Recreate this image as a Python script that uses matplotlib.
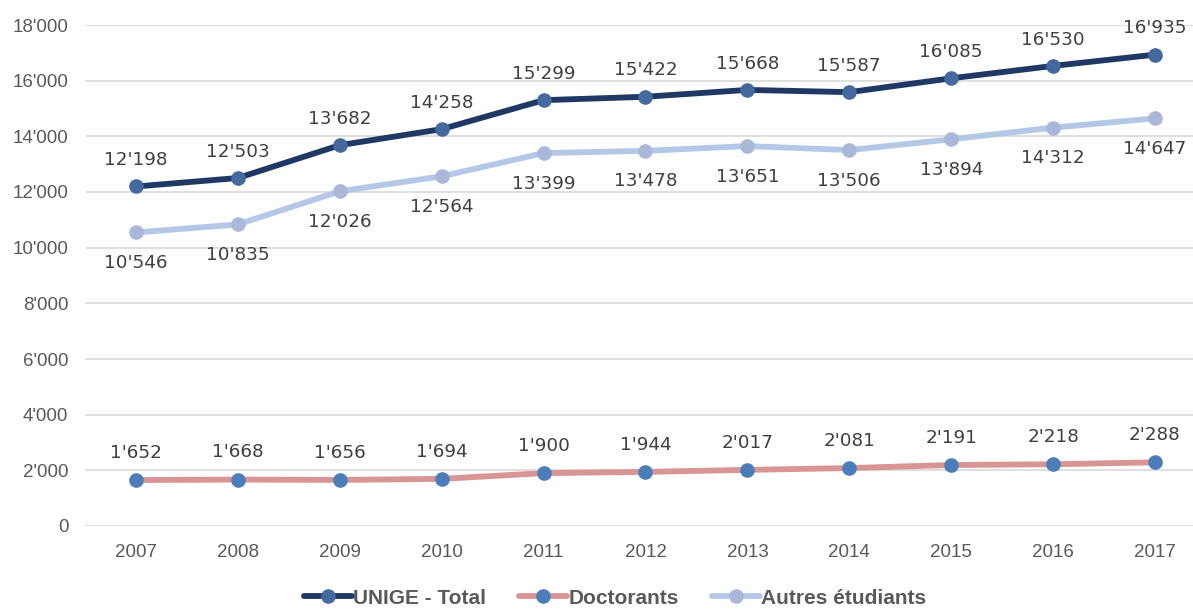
import matplotlib
matplotlib.use("Agg")
import matplotlib.pyplot as plt
from matplotlib.ticker import FuncFormatter

years = ["2007", "2008", "2009", "2010", "2011", "2012", "2013", "2014", "2015", "2016", "2017"]
total = [12198, 12503, 13682, 14258, 15299, 15422, 15668, 15587, 16085, 16530, 16935]
doctorants = [1652, 1668, 1656, 1694, 1900, 1944, 2017, 2081, 2191, 2218, 2288]
autres = [10546, 10835, 12026, 12564, 13399, 13478, 13651, 13506, 13894, 14312, 14647]
series_names = ["UNIGE - Total", "Doctorants", "Autres étudiants"]

def fmt(v):
    return f"{int(v):,}".replace(",", "'")

fig = plt.figure(figsize=(11.93, 6.09), dpi=100)
ax = fig.add_axes([85/1193, (609-526)/609, (1193-85)/1193, (526-25)/609])

x = list(range(len(years)))
ax.plot(x, autres, color="#B4C7E7", lw=4.2, marker="o", ms=9.5,
        mfc="#A9B8D9", mec="#A9B8D9", label=series_names[2], zorder=3, solid_capstyle="round")
ax.plot(x, doctorants, color="#D99594", lw=4.2, marker="o", ms=9.5,
        mfc="#4A7EBB", mec="#4A7EBB", label=series_names[1], zorder=3, solid_capstyle="round")
ax.plot(x, total, color="#1F3864", lw=4.2, marker="o", ms=9.5,
        mfc="#44699F", mec="#44699F", label=series_names[0], zorder=4, solid_capstyle="round")

lab_kw = dict(ha="center", fontsize=13.2, color="#404040", family="DejaVu Sans")
for xi, v in zip(x, total):
    ax.annotate(fmt(v), (xi, v), xytext=(0, 19), textcoords="offset points", va="center", **lab_kw)
for xi, v in zip(x, doctorants):
    ax.annotate(fmt(v), (xi, v), xytext=(0, 19.5), textcoords="offset points", va="center", **lab_kw)
for xi, v in zip(x, autres):
    ax.annotate(fmt(v), (xi, v), xytext=(0, -22), textcoords="offset points", va="center", **lab_kw)

ax.set_xlim(-0.5, 10 + (1193 - 1155) / 101.9)
ax.set_ylim(0, 18000)
ax.set_yticks(range(0, 18001, 2000))
ax.yaxis.set_major_formatter(FuncFormatter(lambda v, p: fmt(v)))
ax.set_xticks(x)
ax.set_xticklabels(years)
ax.grid(axis="y", color="#D9D9D9", lw=1.2)
ax.set_axisbelow(True)
for s in ax.spines.values():
    s.set_visible(False)
ax.tick_params(axis="both", length=0, labelsize=13.5, labelcolor="#595959")
ax.tick_params(axis="x", pad=13)
ax.tick_params(axis="y", pad=12)
for t in ax.get_xticklabels() + ax.get_yticklabels():
    t.set_family(["Liberation Sans Narrow", "Liberation Sans", "DejaVu Sans"])

handles, labels = ax.get_legend_handles_labels()
order = [2, 1, 0]
leg = fig.legend([handles[i] for i in order], [labels[i] for i in order],
                 loc="center", bbox_to_anchor=(615/1193, 1 - 598/609), ncol=3,
                 frameon=False, handlelength=2.3, handletextpad=0.05, columnspacing=1.6,
                 prop={"family": ["Liberation Sans Narrow", "Liberation Sans", "DejaVu Sans"],
                       "weight": "bold", "size": 15})
for t in leg.get_texts():
    t.set_color("#595959")

fig.savefig("out.png", dpi=100)
